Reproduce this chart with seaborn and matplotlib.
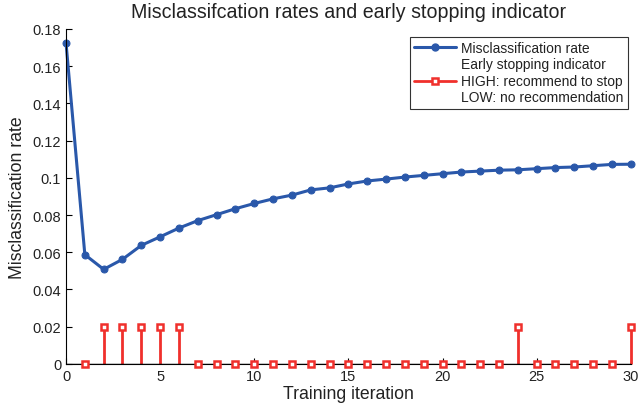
"""Misclassification rate with early stopping indicator (stem plot)."""

import matplotlib

matplotlib.use("Agg")
import matplotlib.pyplot as plt
import numpy as np
import pandas as pd
import seaborn as sns
from matplotlib.legend_handler import HandlerLine2D
from matplotlib.lines import Line2D

iterations = list(range(0, 31))
misclass_rate = [
    0.1725, 0.0587, 0.0508, 0.0562, 0.0637, 0.0683, 0.0730, 0.0770, 0.0802, 0.0834,
    0.0862, 0.0887, 0.0907, 0.0935, 0.0946, 0.0967, 0.0983, 0.0993, 0.1004, 0.1013,
    0.1022, 0.1031, 0.1036, 0.1041, 0.1043, 0.1049, 0.1055, 0.1058, 0.1065, 0.1072,
    0.1073,
]
stop_iterations = list(range(1, 31))
stop_indicator = [
    0, 0.02, 0.02, 0.02, 0.02, 0.02, 0, 0, 0, 0,
    0, 0, 0, 0, 0, 0, 0, 0, 0, 0,
    0, 0, 0, 0.02, 0, 0, 0, 0, 0, 0.02,
]
x_ticks = [0, 5, 10, 15, 20, 25, 30]
y_ticks = [0, 0.02, 0.04, 0.06, 0.08, 0.1, 0.12, 0.14, 0.16, 0.18]
y_ticklabels = ["0", "0.02", "0.04", "0.06", "0.08", "0.1", "0.12", "0.14", "0.16", "0.18"]

BLUE = "#2a58aa"
RED = "#f0302c"
TEXT = "#222222"


class StemHandler(HandlerLine2D):
    """Legend handle for stems: line with the marker at its right end (MATLAB style)."""

    def get_xdata(self, legend, xdescent, ydescent, width, height, fontsize):
        xdata, _ = super().get_xdata(legend, xdescent, ydescent, width, height, fontsize)
        return xdata, np.array([xdata[-1]])


sns.set_style("ticks")
plt.rcParams["font.family"] = ["Liberation Sans", "DejaVu Sans"]

df = pd.DataFrame({"iteration": iterations, "rate": misclass_rate})

fig = plt.figure(figsize=(6.41, 4.10), dpi=100)
ax = fig.add_axes([0.103, 0.110, 0.881, 0.817])

sns.lineplot(
    data=df, x="iteration", y="rate", ax=ax, color=BLUE, linewidth=2.2,
    marker="o", markersize=5, markeredgecolor=BLUE,
)
for line in ax.get_lines():
    line.set_clip_on(False)

markerline, stemlines, baseline = ax.stem(stop_iterations, stop_indicator, basefmt="k-")
plt.setp(stemlines, color=RED, linewidth=2)
stemlines.set_clip_on(False)
plt.setp(markerline, color=RED, marker="s", markersize=3.8, markerfacecolor="white",
         markeredgewidth=1.8, markeredgecolor=RED, zorder=4)
markerline.set_clip_on(False)
plt.setp(baseline, color="black", linewidth=1)
baseline.set_xdata([0, 30])

ax.set_xlim(0, 30)
ax.set_ylim(0, 0.18)
ax.set_xticks(x_ticks)
ax.set_yticks(y_ticks)
ax.set_yticklabels(y_ticklabels)
ax.tick_params(direction="in", length=4, width=0.8, labelsize=10.5, colors="black",
               labelcolor=TEXT)
sns.despine(ax=ax)
for side in ("left", "bottom"):
    ax.spines[side].set_linewidth(0.8)
    ax.spines[side].set_color("black")

ax.set_xlabel("Training iteration", fontsize=12.7, labelpad=1.5, color=TEXT)
ax.set_ylabel("Misclassification rate", fontsize=12.7, labelpad=5, color=TEXT)
ax.set_title("Misclassifcation rates and early stopping indicator", fontsize=14.1, pad=8.5,
             color=TEXT)

rate_handle = Line2D([], [], color=BLUE, linewidth=2.2, marker="o", markersize=5)
stem_handle = Line2D([], [], color=RED, linewidth=2, marker="s", markersize=3.8,
                     markerfacecolor="white", markeredgewidth=1.8)
leg = ax.legend(
    [rate_handle, stem_handle],
    ["Misclassification rate",
     "Early stopping indicator\nHIGH: recommend to stop\nLOW: no recommendation"],
    handler_map={stem_handle: StemHandler()},
    loc="upper right", bbox_to_anchor=(1.0, 0.985), fontsize=10, frameon=True,
    fancybox=False, edgecolor="black", handlelength=3.0, borderpad=0.3,
    labelspacing=0.15, handletextpad=0.4, borderaxespad=0.2,
)
leg.set_zorder(5)
leg.get_frame().set_linewidth(0.8)
for txt in leg.get_texts():
    txt.set_color(TEXT)
    txt.set_linespacing(1.25)

fig.savefig("out.png", dpi=100)
